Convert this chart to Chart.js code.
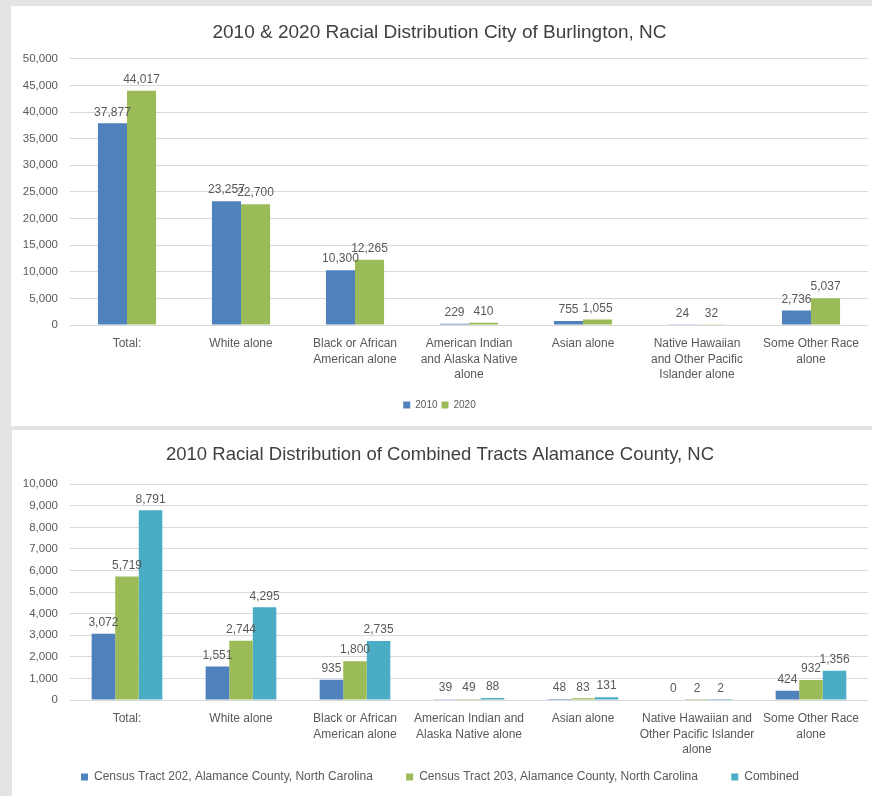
<!DOCTYPE html>
<html>
<head>
<meta charset="utf-8">
<script src="https://cdn.jsdelivr.net/npm/chart.js@4"></script>
<style>
  html, body { margin: 0; padding: 0; background: #e4e4e4; }
  body { width: 872px; height: 796px; position: relative; overflow: hidden; }
  .panel { position: absolute; background: #fff; overflow: hidden; }
  #p1 { left: 11px; top: 6px; width: 861px; height: 420px; }
  #p2 { left: 12px; top: 430px; width: 860px; height: 366px; }
</style>
</head>
<body>
<div class="panel" id="p1"><canvas id="cityChart" width="861" height="420"></canvas></div>
<div class="panel" id="p2"><canvas id="tractChart" width="860" height="366"></canvas></div>
<script>
// city of Burlington
const cityLabels = [
    "Total:",
    "White alone",
    ["Black or African", "American alone"],
    ["American Indian", "and Alaska Native", "alone"],
    "Asian alone",
    ["Native Hawaiian", "and Other Pacific", "Islander alone"],
    ["Some Other Race", "alone"]
];
const city2010 = [37877, 23257, 10300, 229, 755, 24, 2736];
const city2020 = [44017, 22700, 12265, 410, 1055, 32, 5037];

// combined tracts, Alamance County
const tractLabels = [
    "Total:",
    "White alone",
    ["Black or African", "American alone"],
    ["American Indian and", "Alaska Native alone"],
    "Asian alone",
    ["Native Hawaiian and", "Other Pacific Islander", "alone"],
    ["Some Other Race", "alone"]
];
const tract202 = [3072, 1551, 935, 39, 48, 0, 424];
const tract203 = [5719, 2744, 1800, 49, 83, 2, 932];
const tractCombined = [8791, 4295, 2735, 88, 131, 2, 1356];

const FONT = "'Liberation Sans', Arial, sans-serif";
const TEXT = "#595959";
const BLUE = "#4f81bd", GREEN = "#9bbb59", CYAN = "#4bacc6";

const fmt = v => v.toLocaleString("en-US");

const valueLabels = {
    id: "valueLabels",
    afterDatasetsDraw(chart) {
        const ctx = chart.ctx;
        ctx.save();
        ctx.font = "12px " + FONT;
        ctx.fillStyle = TEXT;
        ctx.textAlign = "center";
        ctx.textBaseline = "bottom";
        chart.data.datasets.forEach((ds, i) => {
            chart.getDatasetMeta(i).data.forEach((bar, j) => {
                ctx.fillText(fmt(ds.data[j]), bar.x, bar.y - 5);
            });
        });
        ctx.restore();
    }
};

function makeChart(id, labels, datasets, opts) {
    const gap = " ".repeat(opts.legendGap);
    return new Chart(document.getElementById(id), {
        type: "bar",
        data: { labels: labels, datasets: datasets },
        plugins: [valueLabels],
        options: {
            responsive: false,
            animation: false,
            devicePixelRatio: 1,
            layout: { padding: { left: 0, right: 4, top: 0, bottom: opts.padBottom } },
            datasets: { bar: { categoryPercentage: opts.catPct, barPercentage: 1 } },
            plugins: {
                title: {
                    display: true,
                    text: opts.title,
                    color: "#404040",
                    font: { family: FONT, size: opts.titleSize, weight: "normal" },
                    padding: { top: opts.titleTop, bottom: opts.titleBottom }
                },
                legend: {
                    position: "bottom",
                    labels: {
                        boxWidth: 7,
                        boxHeight: 7,
                        padding: opts.legendPad,
                        color: TEXT,
                        font: { family: FONT, size: opts.legendSize },
                        generateLabels: chart => {
                            const items = Chart.defaults.plugins.legend.labels.generateLabels(chart);
                            items.forEach((it, i) => { if (i < items.length - 1) it.text += gap; });
                            return items;
                        }
                    }
                },
                tooltip: { enabled: false }
            },
            scales: {
                x: {
                    grid: { display: false },
                    border: { display: false },
                    ticks: {
                        color: TEXT,
                        padding: 3,
                        maxRotation: 0,
                        autoSkip: false,
                        font: { family: FONT, size: 12, lineHeight: 1.3 }
                    },
                    afterFit: s => { s.height = opts.xHeight; }
                },
                y: {
                    min: 0,
                    max: opts.yMax,
                    grid: { color: "#d9d9d9", drawTicks: false },
                    border: { display: false },
                    ticks: {
                        stepSize: opts.yStep,
                        color: TEXT,
                        padding: 12,
                        font: { family: FONT, size: 11.5 },
                        callback: v => fmt(v)
                    },
                    afterFit: s => { s.width = opts.yWidth; }
                }
            }
        }
    });
}

makeChart("cityChart", cityLabels, [
    { label: "2010", data: city2010, backgroundColor: BLUE },
    { label: "2020", data: city2020, backgroundColor: GREEN }
], {
    title: "2010 & 2020 Racial Distribution City of Burlington, NC",
    titleSize: 19, titleTop: 15, titleBottom: 15,
    yMax: 50000, yStep: 5000, yWidth: 59,
    catPct: 0.51, xHeight: 71,
    legendPad: 4, legendSize: 10, legendGap: 0, padBottom: 6
});

makeChart("tractChart", tractLabels, [
    { label: "Census Tract 202, Alamance County, North Carolina", data: tract202, backgroundColor: BLUE },
    { label: "Census Tract 203, Alamance County, North Carolina", data: tract203, backgroundColor: GREEN },
    { label: "Combined", data: tractCombined, backgroundColor: CYAN }
], {
    title: "2010 Racial Distribution of Combined Tracts Alamance County, NC",
    titleSize: 18.5, titleTop: 14, titleBottom: 18,
    yMax: 10000, yStep: 1000, yWidth: 58,
    catPct: 0.62, xHeight: 61,
    legendPad: 10, legendSize: 12, legendGap: 7, padBottom: 3
});
</script>
</body>
</html>
